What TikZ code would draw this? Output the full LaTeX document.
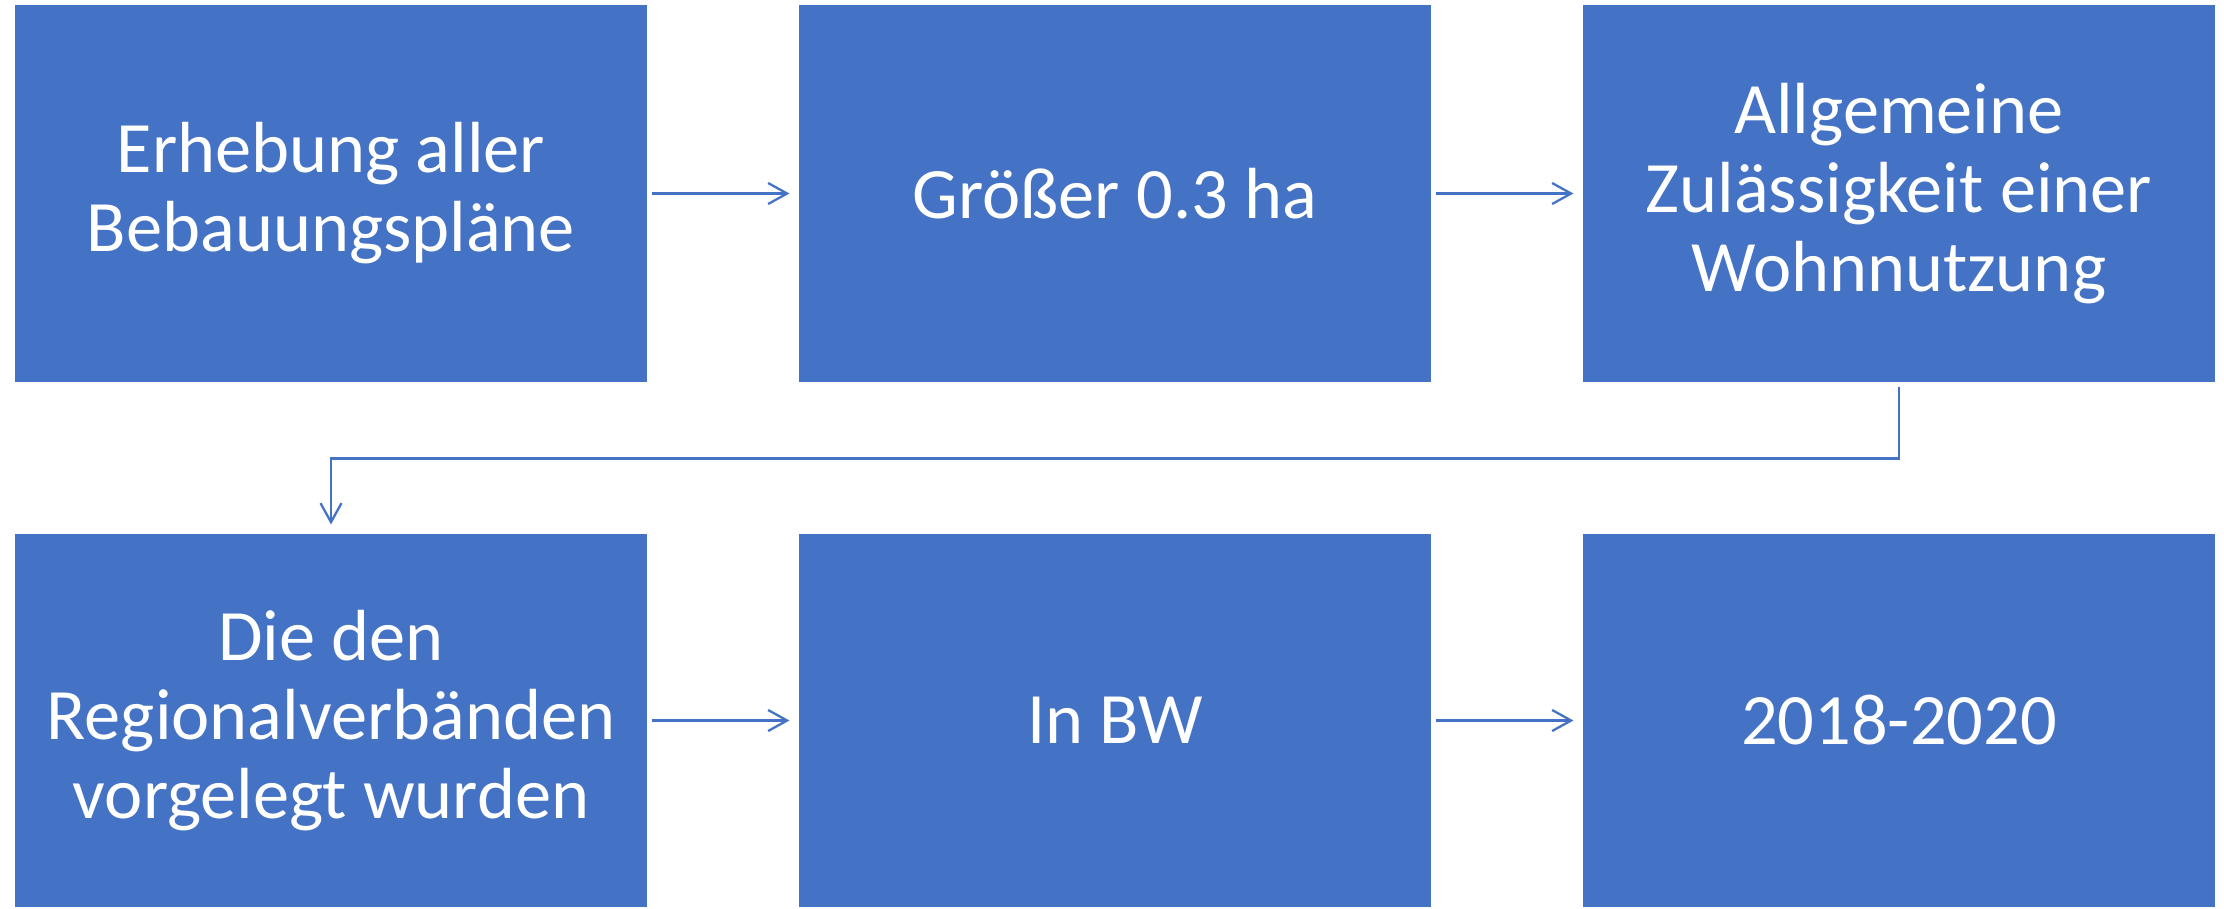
\documentclass[tikz,border=0pt]{standalone}
\usepackage{fontspec}
\setmainfont{Carlito}
\usetikzlibrary{arrows.meta}
\definecolor{boxblue}{HTML}{4472C4}
\begin{document}
\begin{tikzpicture}[
    stepbox/.style={rectangle, fill=boxblue, draw=white, line width=0.3pt,
      minimum width=6.34cm, minimum height=3.79cm, inner sep=0pt,
      text=white, align=center, font=\fontsize{20.6pt}{22.5pt}\selectfont},
    lowbox/.style={stepbox, minimum height=3.75cm},
    flow/.style={draw=boxblue, line width=0.65pt,
      -{Straight Barb[length=0.19cm, width=0.21cm, line width=0.65pt]}}
  ]
  \useasboundingbox (0,0) rectangle (22.24,-9.08);
  \draw
    (3.31,-1.935) node[stepbox] (erhebung) {Erhebung aller\\Bebauungspläne}
    (11.15,-1.935) node[stepbox] (groesser) {Größer 0.3 ha}
    (18.99,-1.935) node[stepbox] (zulaessig) {Allgemeine\\Zulässigkeit einer\\Wohnnutzung}
    (3.31,-7.205) node[lowbox] (regional) {Die den\\Regionalverbänden\\vorgelegt wurden}
    (11.15,-7.205) node[lowbox] (bw) {In BW}
    (18.99,-7.205) node[lowbox] (jahre) {2018-2020};
  \begin{scope}[flow, shorten <=0.03cm, shorten >=0.08cm]
    \draw (erhebung) to (groesser);
    \draw (groesser) to (zulaessig);
    \draw (regional) to (bw);
    \draw (bw) to (jahre);
    \draw (zulaessig.south) -- ++(0,-0.75) -| (regional.north);
  \end{scope}
\end{tikzpicture}
\end{document}
